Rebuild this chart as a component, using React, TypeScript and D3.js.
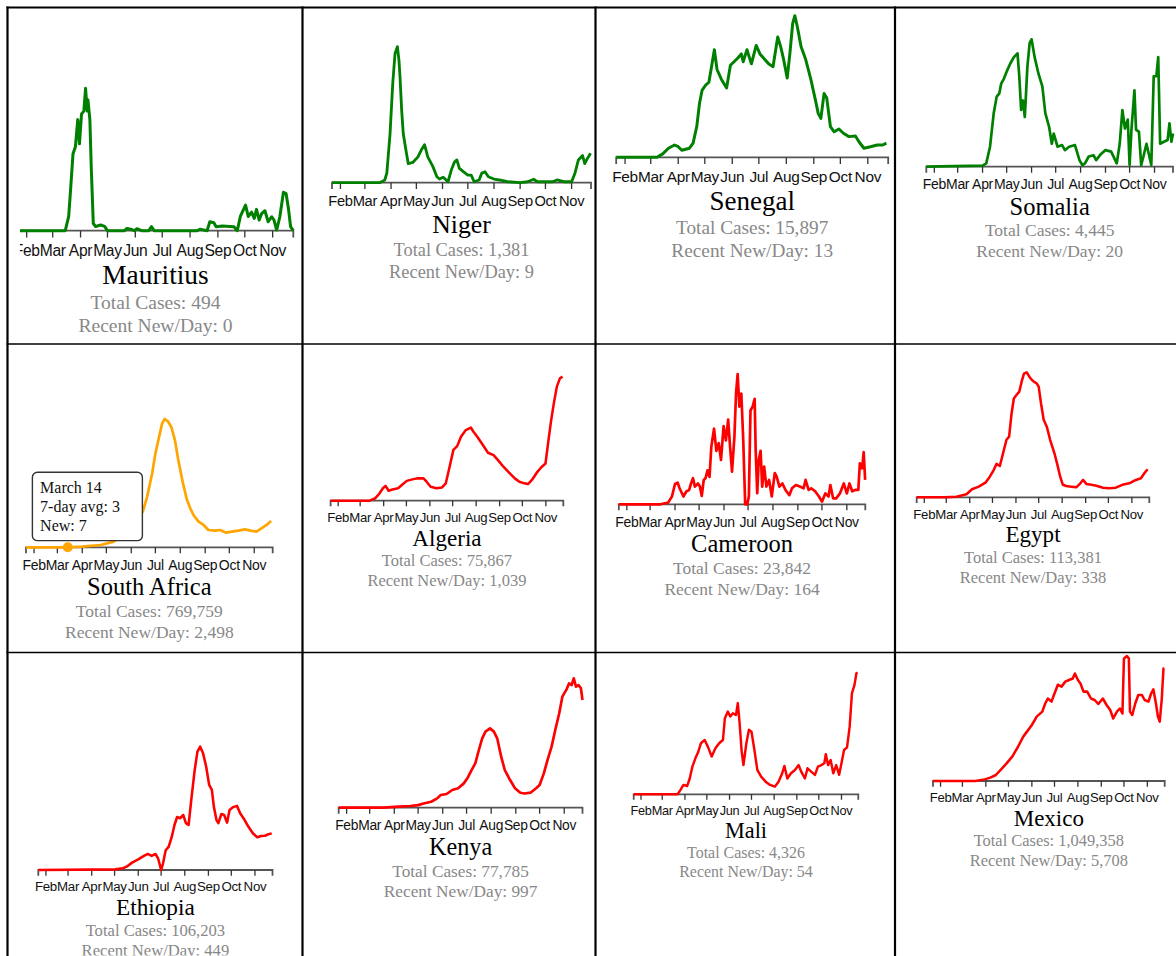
import React from "react";
import * as d3 from "d3";

const START = new Date(2020, 0, 22);
const END = new Date(2020, 10, 24);

// Each series: [days since Jan 22 2020, new cases per day as % of that country's peak]
const mauritius: [number, number][] = [[0,0],[53,0],[56.8,10],[58.6,26],[61.6,54],[64.3,59],[66.9,78],[68.8,61],[71.1,82],[73.7,84],[75.6,100],[77.4,84],[78.2,92],[80.4,78],[81.9,45],[84.2,5],[86.8,3],[92.4,4],[96.8,3],[100,0],[119,0],[121.6,1.6],[126,1],[130,0],[132.8,1.4],[138,0],[146,0],[149,2.8],[152,0],[200,0],[203,1],[211,0],[214,6.3],[218.5,5.6],[221,2.8],[228,3.3],[240.9,2.8],[244.6,0],[248,10],[253.8,18],[256.8,10],[260.5,13],[263.5,8.7],[266,15],[269,7.5],[271.7,12],[275.4,14],[279,6.3],[283,9.8],[285.5,7.5],[288.5,0.5],[292,9.8],[296,27],[299,26],[301.5,16],[304,2.8],[307,0]];
const niger: [number, number][] = [[0,0],[56.6,0],[62.5,2],[65,7],[68.8,36],[72,73],[74.7,95],[77.5,100],[79.4,90],[80.6,78],[82.6,53],[84.5,36],[87.6,24],[90.4,14],[96,15],[101.9,19],[105.8,24],[109.7,28],[113.5,19],[119.5,12],[124.3,4.4],[127.4,2.7],[131.8,4],[137.5,0.7],[141.4,9.3],[145.3,15.4],[148,16.7],[151,10.5],[156,8],[161,5.6],[165,5.6],[168.5,0.7],[174.4,2],[177.5,7],[181.4,8],[185.3,4.4],[192,2.7],[198.5,2],[208,0.7],[223,0],[232,0.7],[239,2.5],[243.5,0.7],[261.7,0.7],[266.6,2],[275,0.7],[284,0.7],[288,7],[292,16.7],[297,20],[299.6,14],[302,17],[306.5,21.6]];
const senegal: [number, number][] = [[0,0],[46,0],[52.5,2.4],[59,6.4],[65.8,8.7],[70,7.5],[74,5],[82.7,6.4],[86.8,10],[91,22],[94,38],[97,47.5],[101,51],[104.6,53],[107.6,64],[110.8,76],[113.8,62],[118.8,55],[124.6,49],[128.9,65],[133,67.5],[137,70],[141.2,73],[143.3,67.5],[147.6,76],[152.6,66],[158,79],[162.3,73],[166.5,70],[172,66],[177,64],[182.3,85],[185.7,78],[189,69],[193,56],[196,73],[199.2,94.5],[201.6,100],[204.5,92],[208.7,78],[213.9,69],[219.7,55],[225,40],[228,31],[231,27.5],[234.6,45],[237.6,42],[241.8,21.6],[246,18],[251.4,20],[256.4,17],[262.7,14.6],[270,15],[274,11],[279.6,6.4],[287,7.5],[294.6,8.7],[300.8,8.7],[305,10]];
const somalia: [number, number][] = [[0,0],[70,0.8],[74.6,2.6],[79.3,15.7],[83.9,42],[87.6,55],[90.9,57.6],[93.3,65.4],[96.5,69],[100,74.6],[104.5,81],[109,86],[113.5,89],[115.7,71],[118,44.5],[120.3,52],[122.6,39],[125.8,78.5],[128.6,97],[131,100],[134.8,86],[139.6,73],[144.4,63],[148.1,42],[152.9,31],[156.2,18],[158.6,26],[163.3,15.7],[169,17],[172.5,13],[177.8,15.7],[185,17],[190.6,5.2],[194.2,1.3],[197.5,2.6],[202.1,8],[208.1,9],[211.4,5.2],[217.4,10],[223,13],[230,11.8],[237,2.6],[240.7,18],[244,44.5],[247.2,30],[250.7,37],[253,1.3],[255.3,29],[259,60],[261,29],[264.6,27.5],[267.4,1.3],[270.2,8],[274,18],[276.7,10.5],[280,1.3],[283,71],[286.3,71],[288.6,86],[291,18],[295.7,19.6],[300.3,21],[302.6,34],[305,19.6],[307,26]];
const southAfrica: [number, number][] = [[0,0],[50,0],[70,0.5],[93,1.8],[109,4.4],[118,8.3],[126,13.5],[134.7,20],[141,24],[145.5,28],[150.8,39.5],[157,57.7],[161,73],[165.6,86],[169.4,96.6],[172.7,100],[176.9,98],[181,93.5],[185.3,83.6],[189.5,68],[195.3,50],[200.3,37],[204.4,30.4],[208.6,25],[214.7,20],[221,17.4],[227,13.5],[235.4,13],[241.6,13.5],[249,11.4],[256,12.2],[264.2,13],[272.5,14],[279.4,13],[286.8,12.2],[293,14.8],[299.4,17.4],[305,20.5]];
const algeria: [number, number][] = [[0,0],[51.6,0],[59,2],[64,5.4],[69,10],[72.5,12],[76.5,8],[81.6,9],[89,10],[94,12.6],[100.5,16],[106.6,17],[114,18],[122.6,18],[126.6,15.3],[132,11.3],[139.6,10],[147,10.7],[152,14],[157,27.4],[162,41],[167,44],[172,51.6],[178.4,57],[185,59],[188.5,55.6],[193.5,51.6],[200,45.7],[207.6,38.7],[215,36.8],[220,33.3],[228,27.4],[235.5,22.6],[243,18],[249,15.3],[255.5,14],[260.5,13.4],[265.6,16.7],[272,22.6],[278,27],[283.5,30],[287.5,49],[291,65],[294.5,78.5],[298.5,92],[302.5,98.7],[306,100]];
const cameroon: [number, number][] = [[0,0],[51.9,0],[61.4,1.3],[66.2,6],[70,15.6],[73.3,16.6],[75.7,12.3],[80.5,6],[84.3,10],[87.6,11],[90,16],[92.4,20],[94.8,13.6],[98.6,16],[101,13.6],[103.3,6.4],[105.8,18.7],[108,20],[110.5,26],[113,21],[115.2,44],[118.6,58],[121.5,41],[124.4,47],[127.3,34],[130.5,60],[133.4,49],[136.2,65],[138.6,44],[141,25],[144,52],[146,85],[148,100],[150.2,75],[152.6,85],[155,49],[157.4,0],[160,0],[162,6],[164,72],[166.7,75],[169.2,81],[170.5,41],[172.4,8.5],[174.3,34],[176.6,41],[178.6,13.6],[181,29],[183.8,13.6],[187.2,18.7],[190.5,6],[194.3,24],[196.7,21],[200,13.6],[203.8,16],[207.6,11],[212.4,7],[215.7,12.3],[220.5,14.8],[225.4,13.6],[230.2,12.3],[232.6,18.7],[236.4,11],[239.7,12.3],[244.5,10],[249.3,6],[253,2],[257.3,8.4],[261.2,6],[263.5,14.8],[266.9,4.6],[270.7,4.6],[275.5,8.4],[280.2,16],[284,8.4],[287.3,16],[290.7,10],[294.5,11],[298.3,11],[300.2,31.5],[303,27.6],[305,40],[306.8,18.7]];
const egypt: [number, number][] = [[0,0],[37,0],[52.4,0.5],[65.7,2.4],[73,6.4],[81.9,8.5],[90.7,11.7],[96.5,16.5],[101.8,22],[105.3,26.7],[109.7,25],[114,35.2],[118.5,46],[122,48.5],[125,66],[128.2,79],[131.9,82],[135.4,84.5],[138.5,92.5],[141.6,99],[145.2,100],[148.7,96.5],[151.8,94],[154.9,92.5],[158.5,91],[161,88.5],[164.1,75],[167.6,62],[171.7,56.5],[176.1,46],[181.8,35.2],[186.3,24.5],[189.4,16.5],[192.9,10],[197.3,9],[204,8.5],[210.6,8],[216,11.2],[219.5,13.9],[223.9,10.7],[230.6,10],[237.2,9.3],[246,7.7],[253.9,7.2],[262.7,7.7],[271.5,10],[280.5,11.2],[289.3,13.9],[296,15.2],[300.4,19.2],[304.8,22.4]];
const ethiopia: [number, number][] = [[0,0],[101,0.5],[110.9,1.4],[115.7,2.7],[122.9,6],[131,8.6],[138.5,11.4],[143.5,13],[148.6,11.4],[153.6,13],[157,9.5],[161,0],[163.5,5.4],[167,16],[171,19],[175,27],[178.5,36.5],[182,43],[186,42],[190,44.6],[193.5,38],[197,36.5],[201,59.5],[205,81],[208.6,96],[212.2,100],[216,94.6],[220,84],[224,69],[227.5,65],[230.2,51],[233.6,40.5],[236,38],[240,45.4],[243.6,44.6],[247.4,38.4],[250.7,48.6],[255.5,51],[260.5,52],[264.6,46],[270.5,40.5],[275.5,35],[281,30],[287,26.5],[292,27.6],[297,27.8],[301.6,29],[306,29.7]];
const kenya: [number, number][] = [[0,0],[56,0],[75.8,0.8],[90.3,1.3],[100,2],[106.8,3.3],[116.5,4.6],[124,7.2],[128.5,9.8],[135.8,10.6],[143,13.7],[150.4,15],[157.5,18.8],[162,22.7],[167.3,29],[172,34.3],[176.5,44.6],[180.7,53.6],[184.8,58.8],[190.5,61.3],[195.4,58.8],[199.6,53.6],[204.6,39.4],[209.2,29],[215.8,21.4],[222,15],[228.7,11.6],[234.3,11],[241.4,11.6],[248.6,15],[253,17.5],[258.3,26.5],[263,37],[268,47],[272.7,60],[277.7,73],[281.6,85.8],[286.6,91],[290,96],[293.3,94.8],[296,100],[298.8,93.5],[302,94.8],[305,92.3],[307,83.2]];
const mali: [number, number][] = [[0,0],[60,0],[64,3.6],[68,7.7],[73,6.8],[76.6,13],[80.2,22.7],[84.3,29.6],[88.3,35],[91.9,42],[97,44.7],[101.5,39],[106.6,31],[111.7,37.8],[116.8,42],[122,44.7],[124.6,62.5],[128.7,68],[132,64],[135.6,66.6],[139.8,65.2],[142.3,75],[144.8,58.4],[147.4,36.4],[150,24],[154,42],[157.5,53],[161,51.5],[165,36.4],[169,20],[174.2,14.5],[180.3,10.4],[186.4,7.7],[193,6.3],[198,10.4],[203,17.3],[206,23.3],[210,13],[215,17.3],[220.4,20],[225.5,24],[229,18.6],[234,13],[237.6,21.4],[242.6,18.6],[247.7,16],[251.8,22.7],[256.5,24],[260.5,25.5],[262.6,33],[265.7,24],[269.2,28.2],[272.8,17.3],[276.8,24],[280.8,16],[284,25.5],[287.5,36.4],[291.6,38.6],[295.2,55.6],[298.3,83],[301.8,90],[304.4,99.5],[306,100]];
const mexico: [number, number][] = [[0,0],[56,0],[68.5,1.3],[76,2.7],[83.3,4.8],[90.3,9.3],[97.5,14.1],[105,19.5],[112.3,27],[119.6,35.5],[124.5,39.5],[131,44.8],[137.4,51.5],[144.8,55.5],[148.7,62],[152.2,66],[157,63.5],[161,70],[165.4,77],[170.3,75.5],[175.3,79.5],[180.2,80.8],[185.2,82],[188,86],[192,80.8],[195.4,78],[199.4,71.5],[204.3,71.5],[209.3,66],[214.2,64.8],[219,61.6],[225,66],[230,60.8],[234.8,56.8],[238.8,50],[243.7,55.5],[247.6,58],[251,54],[253,98],[257,100],[259.5,98],[261,55.5],[264,52.8],[268,62],[272,68.8],[276.9,68.8],[280.4,64.8],[285.5,63.5],[289,70],[292,73.3],[295.4,62],[298,51.5],[300.4,47.5],[303,64.8],[305.4,90],[306.5,90]];

const countries = ["Mauritius", "Niger", "Senegal", "Somalia", "South Africa", "Algeria", "Cameroon", "Egypt", "Ethiopia", "Kenya", "Mali", "Mexico"];
const totalCases = ["494", "1,381", "15,897", "4,445", "769,759", "75,867", "23,842", "113,381", "106,203", "77,785", "4,326", "1,049,358"];
const recentNewPerDay = ["0", "9", "13", "20", "2,498", "1,039", "164", "338", "449", "997", "54", "5,708"];
const trend = ["down", "down", "down", "down", "mid", "up", "up", "up", "up", "up", "up", "up"];
const seriesList = [mauritius, niger, senegal, somalia, southAfrica, algeria, cameroon, egypt, ethiopia, kenya, mali, mexico];

const tooltip = { panel: 4, date: new Date(2020, 2, 14), label: "March 14", avg: "3", newCases: "7" };

// layout of each small chart: x of start/end of time axis, y of zero line, y of series peak
const panelLeft = [17.7, 332, 616.2, 926.3, 26, 330.6, 618.8, 916.7, 38.3, 338.7, 633.7, 933];
const panelRight = [293.3, 591, 888.2, 1173, 272.7, 563.3, 865.3, 1149.3, 272.5, 582.5, 858.3, 1164.7];
const panelBase = [230.7, 182.7, 157.3, 166.7, 547.3, 500.7, 504.3, 497.3, 870, 807.7, 794.3, 781];
const panelTop = [88.3, 46.7, 15.7, 39.3, 419, 376.7, 374, 372.3, 746.7, 678.3, 672.7, 656];

const colX = [7.5, 302.5, 595.5, 895, 1176];
const rowY = [7.5, 344, 652.5, 956];

const trendColor: Record<string, string> = { down: "#008000", mid: "#FFA500", up: "#FF0000" };

const dayToDate = (d: number) => new Date(START.getTime() + d * 86400000);

function Panel({ i }: { i: number }) {
  const left = panelLeft[i], right = panelRight[i], base = panelBase[i], top = panelTop[i];
  const W = right - left;
  const k = W / 246.7;
  const x = d3.scaleTime().domain([START, END]).range([left, right]);
  const y = d3.scaleLinear().domain([0, 100]).range([base, top]);
  const data = seriesList[i];
  const line = d3.line<[number, number]>().x((d) => x(dayToDate(d[0]))).y((d) => y(d[1]));
  const ticks = x.ticks(d3.timeMonth.every(1) as any);
  const fmt = d3.timeFormat("%b");
  const cx = (left + right) / 2;
  const col = i % 4, row = Math.floor(i / 4);
  const clipX = i === 0 ? 20 : colX[col] + 1;
  const color = trendColor[trend[i]];
  const tick = 6 * k;

  let tip = null;
  if (tooltip.panel === i) {
    const t = (tooltip.date.getTime() - START.getTime()) / 86400000;
    const idx = d3.bisector((d: [number, number]) => d[0]).right(data, t);
    const a = data[Math.max(0, idx - 1)], b = data[Math.min(data.length - 1, idx)];
    const v = b[0] === a[0] ? a[1] : a[1] + ((b[1] - a[1]) * (t - a[0])) / (b[0] - a[0]);
    const px = x(tooltip.date), py = y(v);
    const rx = px - 35.4 * k, ry = py - 75 * k;
    const fs = 16 * k;
    tip = (
      <g>
        <circle cx={px} cy={py} r={5 * k} fill={color} />
        <rect x={rx} y={ry} width={110 * k} height={68.4 * k} rx={5 * k} fill="#fff" stroke="#333" strokeWidth={1.4} />
        <g fontFamily="'Liberation Serif', 'Times New Roman', serif" fontSize={fs} fill="#111">
          <text x={rx + 7.7 * k} y={py - 60 * k} dy="0.33em">{tooltip.label}</text>
          <text x={rx + 7.7 * k} y={py - 40.6 * k} dy="0.33em">{`7-day avg: ${tooltip.avg}`}</text>
          <text x={rx + 7.7 * k} y={py - 21.6 * k} dy="0.33em">{`New: ${tooltip.newCases}`}</text>
        </g>
      </g>
    );
  }

  return (
    <g clipPath={`url(#clip${i})`}>
      <defs>
        <clipPath id={`clip${i}`}>
          <rect x={clipX} y={rowY[row] + 1} width={colX[col + 1] - clipX - 1} height={rowY[row + 1] - rowY[row] - 1.5} />
        </clipPath>
      </defs>
      <path d={`M${left},${base + tick}V${base}H${right}V${base + tick}`} fill="none" stroke="#555" strokeWidth={1.8} />
      {ticks.map((t, j) => (
        <g key={j}>
          <line x1={x(t)} x2={x(t)} y1={base} y2={base + tick} stroke="#333" strokeWidth={1.3} />
          <text x={x(t)} y={base + 0.0715 * W} dy="0.35em" textAnchor="middle" fontFamily="'Liberation Sans', Arial, sans-serif" fontSize={14 * k} letterSpacing={-0.3} fill="#111">
            {fmt(t)}
          </text>
        </g>
      ))}
      <path d={line(data) || ""} fill="none" stroke={color} strokeWidth={2.7 * k} strokeLinejoin="round" />
      <g fontFamily="'Liberation Serif', 'Times New Roman', serif" textAnchor="middle">
        <text x={cx} y={base + 0.161 * W} dy="0.33em" fontSize={24.5 * k} fill="#000">{countries[i]}</text>
        <text x={cx} y={base + 0.259 * W} dy="0.33em" fontSize={17.5 * k} fill="#888">{`Total Cases: ${totalCases[i]}`}</text>
        <text x={cx} y={base + 0.343 * W} dy="0.33em" fontSize={17.5 * k} fill="#888">{`Recent New/Day: ${recentNewPerDay[i]}`}</text>
      </g>
      {tip}
    </g>
  );
}

export default function App() {
  return (
    <svg width={1176} height={956} style={{ position: "absolute", left: 0, top: 0, background: "#fff" }}>
      <rect width={1176} height={956} fill="#fff" />
      {countries.map((_, i) => (
        <Panel key={i} i={i} />
      ))}
      <g stroke="#000">
        <line x1={colX[0] - 1} x2={1176} y1={rowY[0]} y2={rowY[0]} strokeWidth={2} />
        <line x1={colX[0] - 1} x2={1176} y1={rowY[1]} y2={rowY[1]} strokeWidth={1.3} />
        <line x1={colX[0] - 1} x2={1176} y1={rowY[2]} y2={rowY[2]} strokeWidth={1.3} />
        {colX.slice(0, 4).map((cx, j) => (
          <line key={j} x1={cx} x2={cx} y1={rowY[0] - 1} y2={956} strokeWidth={2.2} />
        ))}
      </g>
    </svg>
  );
}
